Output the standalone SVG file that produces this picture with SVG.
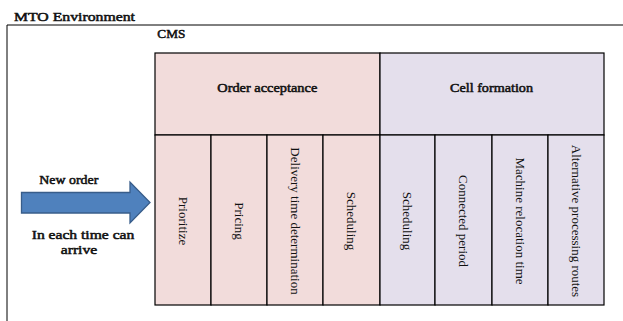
<svg xmlns="http://www.w3.org/2000/svg" width="623" height="321" viewBox="0 0 623 321">
<style>
.b{font-family:"Liberation Serif",serif;font-size:13.5px;fill:#111;stroke:#111;stroke-width:0.55;stroke-linejoin:round}
.v{font-family:"Liberation Serif",serif;font-size:13px;fill:#111;text-anchor:middle;dominant-baseline:central}
.pink{fill:#F2DCDB;stroke:#000;stroke-width:1.2}
.lav{fill:#E4DFEC;stroke:#000;stroke-width:1.2}
</style>
<rect width="623" height="321" fill="#fff"/>
<g id="frame">
<path d="M7,321 V25 H623" fill="none" stroke="#000" stroke-width="1"/>
<text class="b" x="14" y="20.5" textLength="121" lengthAdjust="spacingAndGlyphs">MTO Environment</text>
<text class="b" x="157.3" y="38" textLength="28" lengthAdjust="spacingAndGlyphs">CMS</text>
</g>
<g id="order-acceptance">
<rect class="pink" x="155" y="53" width="225" height="82"/>
<text class="b" x="217.3" y="91.5" textLength="100" lengthAdjust="spacingAndGlyphs">Order acceptance</text>
</g>
<g id="cell-formation">
<rect class="lav" x="380" y="53" width="224" height="82"/>
<text class="b" x="450" y="91.5" textLength="83" lengthAdjust="spacingAndGlyphs">Cell formation</text>
</g>
<g id="prioritize">
<rect class="pink" x="155" y="135" width="56" height="170"/>
<text class="v" transform="translate(183,221) rotate(90)">Prioritize</text>
</g>
<g id="pricing">
<rect class="pink" x="211" y="135" width="56" height="170"/>
<text class="v" transform="translate(239,221) rotate(90)">Pricing</text>
</g>
<g id="delivery">
<rect class="pink" x="267" y="135" width="56" height="170"/>
<text class="v" transform="translate(295,221) rotate(90)">Delivery time determination</text>
</g>
<g id="scheduling-oa">
<rect class="pink" x="323" y="135" width="57" height="170"/>
<text class="v" transform="translate(351.5,221) rotate(90)">Scheduling</text>
</g>
<g id="scheduling-cf">
<rect class="lav" x="380" y="135" width="55" height="170"/>
<text class="v" transform="translate(407.5,221) rotate(90)">Scheduling</text>
</g>
<g id="connected">
<rect class="lav" x="435" y="135" width="57" height="170"/>
<text class="v" transform="translate(463.5,221) rotate(90)">Connected period</text>
</g>
<g id="relocation">
<rect class="lav" x="492" y="135" width="56" height="170"/>
<text class="v" transform="translate(520,221) rotate(90)">Machine relocation time</text>
</g>
<g id="alternative">
<rect class="lav" x="548" y="135" width="56" height="170"/>
<text class="v" transform="translate(576,221) rotate(90)">Alternative processing routes</text>
</g>
<g id="connectors">
<path d="M21.5,192.5 H130 V182 L150,202.5 L130,223 V213 H21.5 Z" fill="#4F81BD" stroke="#385D8A" stroke-width="1.3"/>
</g>
<g id="new-order-label">
<text class="b" x="39.3" y="183.5" textLength="59" lengthAdjust="spacingAndGlyphs">New order</text>
<text class="b" x="31.7" y="239" textLength="102.6" lengthAdjust="spacingAndGlyphs">In each time can</text>
<text class="b" x="60.7" y="254" textLength="36.6" lengthAdjust="spacingAndGlyphs">arrive</text>
</g>
</svg>
